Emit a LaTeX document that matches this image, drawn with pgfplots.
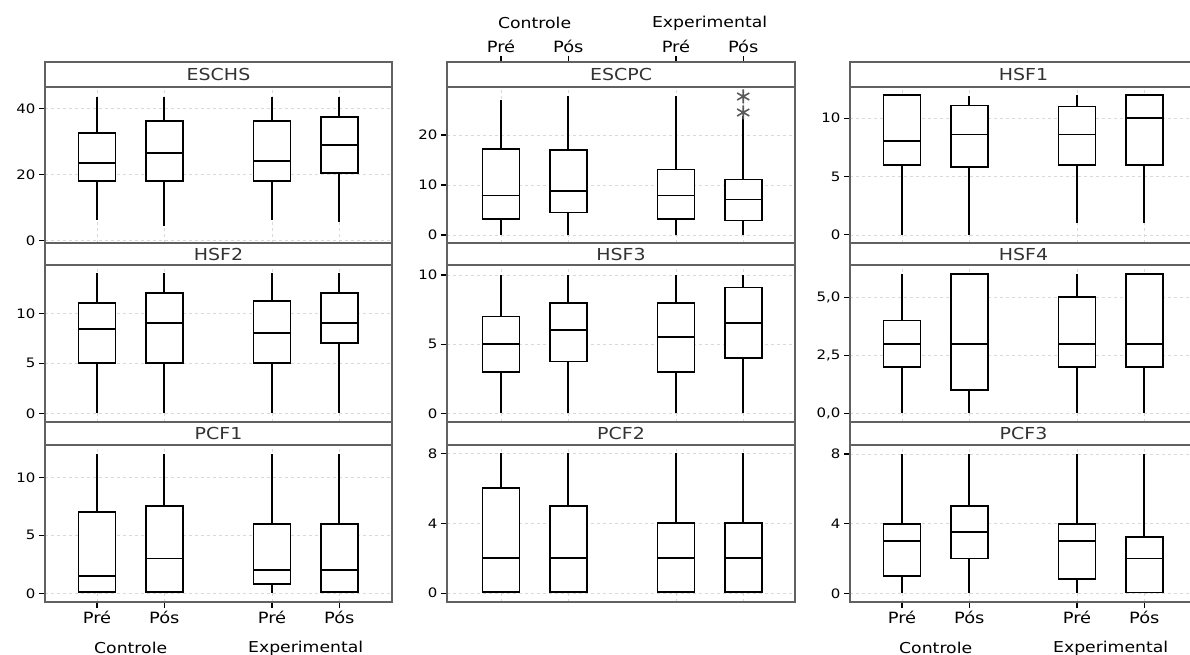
\documentclass[border=0pt]{standalone}
\usepackage{fontspec}
\setmainfont[FakeStretch=1.15]{DejaVu Sans}
\usepackage{pgfplots}
\pgfplotsset{compat=1.18}
\usepgfplotslibrary{statistics}
\definecolor{frame}{gray}{0.38}
\newcommand\stripfont{\fontsize{16.5}{18}\selectfont}
\newcommand\xlabfont{\fontsize{15.5}{17}\selectfont}
\newcommand\grpfont{\fontsize{15}{17}\selectfont}
\pgfplotsset{
  panel/.style={
    scale only axis, clip=false,
    xmin=0.227, xmax=5.383,
    xtick={1,2,3.6,4.6}, xticklabels={,,,},
    tick align=outside, major tick length=6pt,
    ytick pos=left, xtick pos=left,
    axis line style={draw=frame, line width=1.6pt},
    tick style={black, line width=1.1pt},
    xmajorgrids, ymajorgrids,
    grid style={gray!30, dashed, line width=0.7pt},
    /pgf/number format/assume math mode=true,
    yticklabel style={font=\fontsize{13}{15}\selectfont},
    xticklabel style={font=\xlabfont},
  },
  inner/.style={xtick style={draw=none}},
}
% \bp{position}{lower whisker}{Q1}{median}{Q3}{upper whisker}
\newcommand\bp[6]{\addplot[black, line width=1.8pt, fill=white,
  boxplot prepared={draw direction=y, draw position=#1, box extend=0.55, whisker extend=0,
  lower whisker=#2, lower quartile=#3,
  median=#4, upper quartile=#5, upper whisker=#6}] coordinates {};}
\newcommand\strip[2]{%
  \draw[draw=frame, line width=1.6pt, fill=white] (rel axis cs:0,#1) rectangle (rel axis cs:1,1);
  \node[font=\stripfont, text=black!80] at (rel axis cs:0.5,{(1+#1)/2}) {#2};}
\begin{document}
\begin{tikzpicture}
\useasboundingbox (0pt,0pt) rectangle (1190pt,-655pt);
% ---------- Row 1 ----------
\begin{axis}[panel, inner, at={(45pt,-62pt)}, anchor=north west, width=347pt, height=181pt,
  ymin=-0.70, ymax=54.15, ytick={0,20,40}]
\bp{1}{6.3}{18}{23.5}{32.7}{43.6}
\bp{2}{4.5}{18}{26.6}{36.3}{43.6}
\bp{3.6}{6.3}{18}{24.1}{36.3}{43.6}
\bp{4.6}{5.8}{20.5}{29}{37.5}{43.6}
\strip{0.8619}{ESCHS}
\end{axis}
\begin{axis}[panel, at={(447pt,-62pt)}, anchor=north west, width=348pt, height=181pt,
  xmin=0.198, xmax=5.369,
  ymin=-1.6, ymax=34.6, ytick={0,10,20},
  xtick pos=right, xticklabel pos=right, xticklabels={Pré,Pós,Pré,Pós}]
\bp{1}{0}{3.2}{7.9}{17.2}{27}
\bp{2}{0}{4.5}{8.8}{17}{27.7}
\bp{3.6}{0}{3.2}{7.9}{13.1}{27.7}
\addplot[black, line width=1.8pt, fill=white, mark=asterisk, mark size=7pt,
  mark options={draw=gray!70!black, line width=1.6pt},
  boxplot prepared={draw direction=y, draw position=4.6, box extend=0.55, whisker extend=0,
  lower whisker=0, lower quartile=2.9,
  median=7.1, upper quartile=11.1, upper whisker=23.8}]
  table[row sep=\\, y index=0] {24.5\\ 27.7\\};
\strip{0.8619}{ESCPC}
\node[font=\grpfont] at (axis cs:1.5,34.6) [yshift=39pt] {Controle};
\node[font=\grpfont] at (axis cs:4.1,34.6) [yshift=39pt] {Experimental};
\end{axis}
\begin{axis}[panel, inner, at={(850pt,-62pt)}, anchor=north west, width=347pt, height=181pt,
  ymin=-0.69, ymax=14.82, ytick={0,5,10}]
\bp{1}{0}{6}{8.06}{12}{12}
\bp{2}{0}{5.85}{8.6}{11.1}{11.9}
\bp{3.6}{1}{6}{8.6}{11}{12}
\bp{4.6}{1}{6}{10}{12}{12}
\strip{0.8619}{HSF1}
\end{axis}
% ---------- Row 2 ----------
\begin{axis}[panel, inner, at={(45pt,-243pt)}, anchor=north west, width=347pt, height=179pt,
  ymin=-0.87, ymax=17.03, ytick={0,5,10}]
\bp{1}{0}{5}{8.4}{11}{14}
\bp{2}{0}{5}{9}{12}{14}
\bp{3.6}{0}{5}{8}{11.2}{14}
\bp{4.6}{0}{7}{9}{12}{14}
\strip{0.8771}{HSF2}
\end{axis}
\begin{axis}[panel, inner, at={(447pt,-243pt)}, anchor=north west, width=348pt, height=179pt,
  xmin=0.198, xmax=5.369,
  ymin=-0.63, ymax=12.31, ytick={0,5,10}]
\bp{1}{0}{3}{5}{7}{10}
\bp{2}{0}{3.75}{6}{8}{10}
\bp{3.6}{0}{3}{5.5}{8}{10}
\bp{4.6}{0}{4}{6.5}{9.1}{10}
\strip{0.8771}{HSF3}
\end{axis}
\begin{axis}[panel, inner, at={(850pt,-243pt)}, anchor=north west, width=347pt, height=179pt,
  ymin=-0.375, ymax=7.34, ytick={0,2.5,5}, yticklabels={{0,0},{2,5},{5,0}}]
\bp{1}{0}{2}{3}{4}{6}
\bp{2}{0}{1}{3}{6}{6}
\bp{3.6}{0}{2}{3}{5}{6}
\bp{4.6}{0}{2}{3}{6}{6}
\strip{0.8771}{HSF4}
\end{axis}
% ---------- Row 3 ----------
\begin{axis}[panel, at={(45pt,-422pt)}, anchor=north west, width=347pt, height=180pt,
  ymin=-0.75, ymax=14.77, ytick={0,5,10}, xticklabels={Pré,Pós,Pré,Pós}]
\bp{1}{0}{0.1}{1.5}{7}{12}
\bp{2}{0}{0.1}{3}{7.5}{12}
\bp{3.6}{0}{0.8}{2}{6}{12}
\bp{4.6}{0}{0.1}{2}{6}{12}
\strip{0.8722}{PCF1}
\node[font=\grpfont] at (axis cs:1.5,-0.75) [yshift=-46pt] {Controle};
\node[font=\grpfont] at (axis cs:4.1,-0.75) [yshift=-46pt] {Experimental};
\end{axis}
\begin{axis}[panel, inner, at={(447pt,-422pt)}, anchor=north west, width=348pt, height=180pt,
  xmin=0.198, xmax=5.369,
  ymin=-0.5, ymax=9.79, ytick={0,4,8}]
\bp{1}{0}{0.05}{2}{6}{8}
\bp{2}{0}{0.05}{2}{5}{8}
\bp{3.6}{0}{0.05}{2}{4}{8}
\bp{4.6}{0}{0.05}{2}{4}{8}
\strip{0.8722}{PCF2}
\end{axis}
\begin{axis}[panel, at={(850pt,-422pt)}, anchor=north west, width=347pt, height=180pt,
  ymin=-0.5, ymax=9.84, ytick={0,4,8}, xticklabels={Pré,Pós,Pré,Pós}]
\bp{1}{0}{1}{3}{4}{8}
\bp{2}{0}{2}{3.5}{5}{8}
\bp{3.6}{0}{0.8}{3}{4}{8}
\bp{4.6}{0}{0.05}{2}{3.25}{8}
\strip{0.8722}{PCF3}
\node[font=\grpfont] at (axis cs:1.5,-0.5) [yshift=-46pt] {Controle};
\node[font=\grpfont] at (axis cs:4.1,-0.5) [yshift=-46pt] {Experimental};
\end{axis}
\end{tikzpicture}
\end{document}
